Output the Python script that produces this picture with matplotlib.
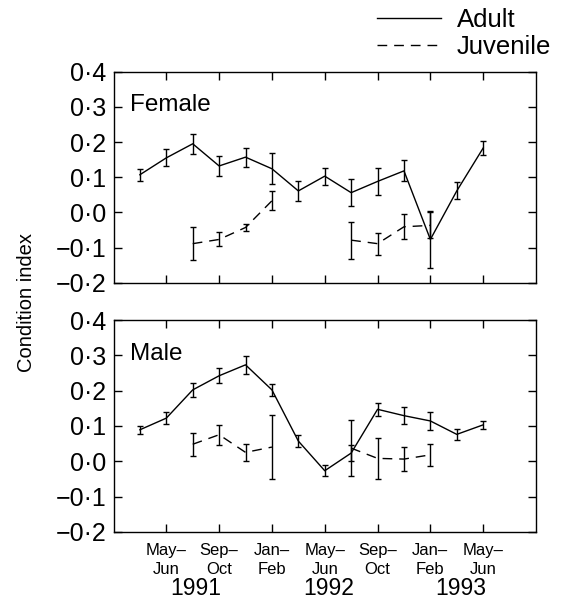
import numpy as np
import matplotlib
matplotlib.use("Agg")
import matplotlib.pyplot as plt
from matplotlib.lines import Line2D
from matplotlib.ticker import FuncFormatter
import matplotlib.transforms as mtransforms

plt.rcParams['font.family'] = ['Liberation Sans', 'DejaVu Sans']

nan = np.nan
# bimonthly periods: 1 = Mar-Apr 1991 ... 14 = May-Jun 1993 (0 = Jan-Feb 1991)
period = np.arange(1, 15)

female_adult = [0.107, 0.155, 0.195, 0.132, 0.157, 0.124, 0.061, 0.103, 0.056, 0.088, 0.118, -0.077, 0.061, 0.183]
female_adult_err = [0.017, 0.024, 0.028, 0.028, 0.027, 0.044, 0.028, 0.024, 0.038, 0.038, 0.030, 0.080, 0.024, 0.019]
female_juv = [nan, nan, -0.089, -0.077, -0.043, 0.033, nan, nan, -0.079, -0.089, -0.041, -0.037, nan, nan]
female_juv_err = [nan, nan, 0.047, 0.020, 0.011, 0.027, nan, nan, 0.053, 0.031, 0.035, 0.037, nan, nan]

male_adult = [0.089, 0.122, 0.202, 0.242, 0.273, 0.202, 0.057, -0.027, 0.023, 0.147, 0.129, 0.114, 0.076, 0.103]
male_adult_err = [0.011, 0.017, 0.019, 0.021, 0.025, 0.016, 0.017, 0.015, 0.023, 0.019, 0.024, 0.025, 0.015, 0.011]
male_juv = [nan, nan, 0.048, 0.075, 0.025, 0.040, nan, nan, 0.037, 0.008, 0.006, 0.018, nan, nan]
male_juv_err = [nan, nan, 0.033, 0.028, 0.025, 0.090, nan, nan, 0.080, 0.058, 0.035, 0.032, nan, nan]

xtick_pos = [2, 4, 6, 8, 10, 12, 14]
xtick_labels = ["May–\nJun", "Sep–\nOct", "Jan–\nFeb", "May–\nJun", "Sep–\nOct", "Jan–\nFeb", "May–\nJun"]
years = ["1991", "1992", "1993"]
year_pos = [3.1, 8.15, 13.15]
yticks = [-0.2, -0.1, 0.0, 0.1, 0.2, 0.3, 0.4]

W, H = 566, 602
fig = plt.figure(figsize=(W / 100, H / 100), dpi=100)

def fx(px):
    return px / W

def fy(py):
    return 1 - py / H

left, right = 113.5, 536
ax1 = fig.add_axes([fx(left), fy(282.7), fx(right) - fx(left), fy(71.7) - fy(282.7)])
ax2 = fig.add_axes([fx(left), fy(531.8), fx(right) - fx(left), fy(320) - fy(531.8)])

fmt = FuncFormatter(lambda v, p: f"{v:.1f}".replace('.', '·').replace('-', '−'))

dash = (0, (7, 5))
for ax, ad, ade, jv, jve, lab in [
    (ax1, female_adult, female_adult_err, female_juv, female_juv_err, "Female"),
    (ax2, male_adult, male_adult_err, male_juv, male_juv_err, "Male"),
]:
    ax.errorbar(period, ad, yerr=ade, color='black', lw=1.0, elinewidth=1.0,
                capsize=2.5, capthick=1.0, ls='-')
    ax.errorbar(period, jv, yerr=jve, color='black', lw=1.0, elinewidth=1.0,
                capsize=2.5, capthick=1.0, ls=dash)
    ax.set_xlim(0, 16)
    ax.set_ylim(-0.2, 0.4)
    ax.set_yticks(yticks)
    ax.yaxis.set_major_formatter(fmt)
    ax.set_xticks(xtick_pos)
    ax.tick_params(axis='both', which='major', direction='in', length=5.5, width=1.0,
                   top=True, right=True, bottom=True, left=True, labelsize=18, pad=5)
    for s in ax.spines.values():
        s.set_linewidth(1.0)
    ax.text(0.04, 0.84, lab, transform=ax.transAxes, fontsize=17.5,
            ha='left', va='center')

ax1.tick_params(axis='x', labelbottom=False)
ax2.set_xticklabels(xtick_labels, fontsize=12, linespacing=1.35)
ax2.tick_params(axis='x', pad=8)

trans = mtransforms.blended_transform_factory(ax2.transData, ax2.transAxes)
for yr, xp in zip(years, year_pos):
    ax2.text(xp, -0.268, yr, transform=trans, ha='center', va='center', fontsize=16.5)

fig.text(fx(27), fy(302), "Condition index", rotation=90, ha='center', va='center', fontsize=14.5)

handles = [Line2D([], [], color='black', lw=1.0, ls='-'),
           Line2D([], [], color='black', lw=1.0, ls=dash)]
fig.legend(handles, ["Adult", "Juvenile"], loc='upper left',
           bbox_to_anchor=(fx(377), fy(8)), frameon=False, fontsize=18.5,
           handlelength=2.5, handletextpad=0.6, labelspacing=0.1,
           borderpad=0, borderaxespad=0)

fig.savefig("out.png", dpi=100)
